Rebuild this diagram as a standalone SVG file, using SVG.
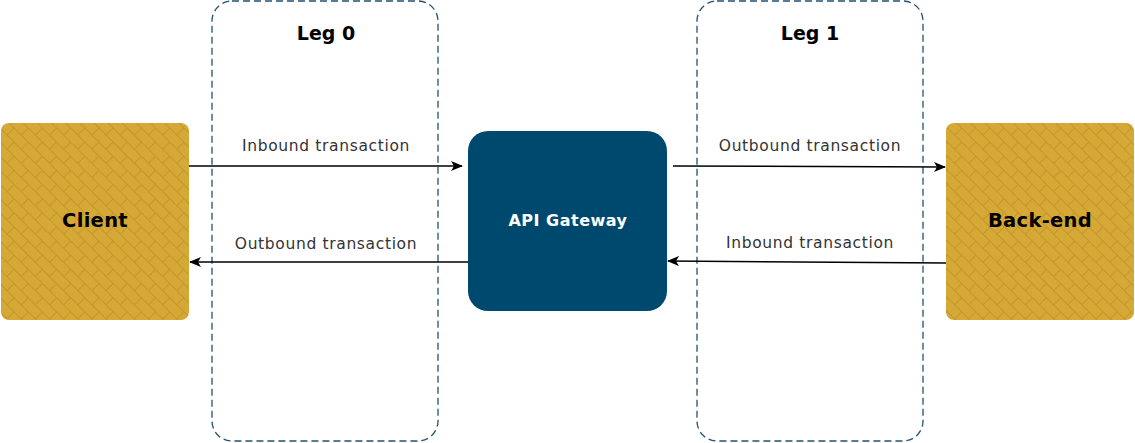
<svg xmlns="http://www.w3.org/2000/svg" width="1135" height="443" viewBox="0 0 1135 443">
<style>
.leg{fill:none;stroke:#1F5274;stroke-width:1.3;stroke-dasharray:7 4}
.title{font-family:"DejaVu Sans",Verdana,sans-serif;font-weight:bold;font-size:19px;fill:#000;text-anchor:middle}
.lbl{font-family:"DejaVu Sans",Verdana,sans-serif;font-size:15.5px;letter-spacing:0.65px;fill:#333;text-anchor:middle}
.nodeText{font-family:"DejaVu Sans",Verdana,sans-serif;font-weight:bold;font-size:19.5px;letter-spacing:0.3px;fill:#000;text-anchor:middle}
.gwText{font-family:"DejaVu Sans",Verdana,sans-serif;font-weight:bold;font-size:16px;letter-spacing:0.5px;fill:#fff;text-anchor:middle}
.conn{stroke:#000;stroke-width:1.5;fill:none;marker-end:url(#arrow)}
.gold{fill:url(#brick)}
</style>
<defs>
<pattern id="brick" width="20" height="20" patternUnits="userSpaceOnUse" patternTransform="rotate(45)">
<rect width="20" height="20" fill="#D6A936"/>
<path d="M0 0.5H20M0 10.5H20M0.5 0V10M10.5 10V20" stroke="#C4962C" stroke-width="1" fill="none"/>
</pattern>
<marker id="arrow" markerWidth="12" markerHeight="10" refX="11" refY="5" orient="auto" markerUnits="userSpaceOnUse">
<path d="M0 0L12 5L0 10L3 5Z" fill="#000"/>
</marker>
</defs>
<g id="leg0">
<rect class="leg" x="212" y="1" width="226" height="440" rx="20"/>
<text class="title" x="326" y="40">Leg 0</text>
</g>
<g id="leg1">
<rect class="leg" x="697" y="1" width="226" height="440" rx="20"/>
<text class="title" x="810" y="40">Leg 1</text>
</g>
<g id="client">
<rect class="gold" x="1" y="123" width="188" height="197" rx="8"/>
<text class="nodeText" x="95" y="227">Client</text>
</g>
<g id="gateway">
<rect x="468" y="131" width="199" height="180" rx="20" fill="#00496E"/>
<text class="gwText" x="568" y="226">API Gateway</text>
</g>
<g id="backend">
<rect class="gold" x="946" y="123" width="188" height="197" rx="8"/>
<text class="nodeText" x="1040" y="227">Back-end</text>
</g>
<g id="connectors">
<path class="conn" d="M189 166L462 166"/>
<path class="conn" d="M468 262L190 262"/>
<path class="conn" d="M673 166L945 167"/>
<path class="conn" d="M946 263L668 261"/>
<text class="lbl" x="326" y="151">Inbound transaction</text>
<text class="lbl" x="326" y="249">Outbound transaction</text>
<text class="lbl" x="810" y="151">Outbound transaction</text>
<text class="lbl" x="810" y="248">Inbound transaction</text>
</g>
</svg>
